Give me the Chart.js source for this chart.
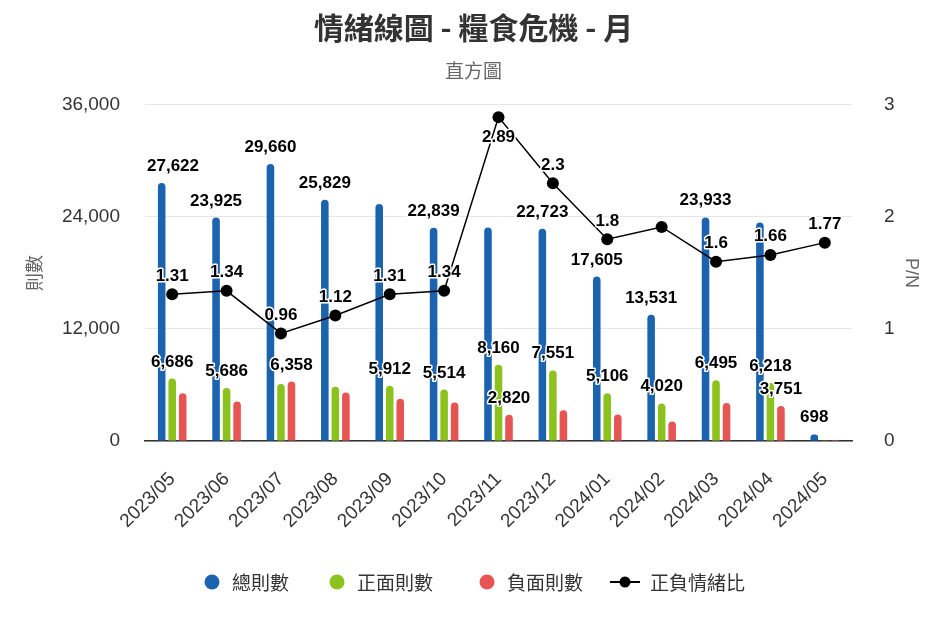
<!DOCTYPE html>
<html>
<head>
<meta charset="utf-8">
<script src="https://cdn.jsdelivr.net/npm/chart.js@4.4.1/dist/chart.umd.min.js"></script>
<style>
  html, body { margin: 0; padding: 0; background: #fff; }
</style>
</head>
<body>
<canvas id="sentimentChart" width="947" height="631"></canvas>
<script>
// data
const months = ['2023/05', '2023/06', '2023/07', '2023/08', '2023/09', '2023/10', '2023/11',
  '2023/12', '2024/01', '2024/02', '2024/03', '2024/04', '2024/05'];
const totalCounts = [27622, 23925, 29660, 25829, 25380, 22839, 22850, 22723, 17605, 13531, 23933, 23400, 698];
const positiveCounts = [6686, 5686, 6104, 5800, 5912, 5514, 8160, 7551, 5106, 4020, 6495, 6218, 23];
const negativeCounts = [5104, 4243, 6358, 5180, 4513, 4115, 2820, 3283, 2837, 2100, 4059, 3751, 13];
const pnRatio = [1.31, 1.34, 0.96, 1.12, 1.31, 1.34, 2.89, 2.3, 1.8, 1.91, 1.6, 1.66, 1.77];
const countTicks = [0, 12000, 24000, 36000];
const ratioTicks = [0, 1, 2, 3];

// which value labels are visible (the others are hidden in the reference)
const totalLabelIdx = [0, 1, 2, 3, 5, 7, 8, 9, 10, 12];
const positiveLabelIdx = [0, 1, 4, 5, 6, 7, 8, 9, 10, 11];
const negativeLabelIdx = [2, 6, 11];
const ratioLabelIdx = [0, 1, 2, 3, 4, 5, 6, 7, 8, 10, 11, 12];

const latin = '"Liberation Sans", Arial, "Noto Sans CJK TC", sans-serif';
const cjk = '"Noto Sans CJK TC", "Liberation Sans", sans-serif';

// black numbers with a white outline above bars / points
const valueLabels = {
  id: 'valueLabels',
  afterDatasetsDraw(chart) {
    const { ctx, chartArea } = chart;
    ctx.save();
    ctx.font = 'bold 17px ' + latin;
    ctx.textAlign = 'center';
    ctx.textBaseline = 'alphabetic';
    ctx.lineJoin = 'round';
    ctx.lineWidth = 3;
    ctx.strokeStyle = '#fff';
    ctx.fillStyle = '#000';
    chart.data.datasets.forEach((ds, di) => {
      const meta = chart.getDatasetMeta(di);
      ds.labelIdx.forEach(i => {
        const el = meta.data[i];
        const txt = ds.type === 'line' ? String(ds.data[i]) : ds.data[i].toLocaleString('en-US');
        const w = ctx.measureText(txt).width;
        const x = Math.min(Math.max(el.x, chartArea.left + w / 2 + 2), chartArea.right - w / 2 - 2);
        let y;
        if (ds.type === 'line') {
          y = el.y - 13.5;
          if (y - 13 < chartArea.top) y = el.y + 25;
        } else {
          y = el.y - 12;
        }
        ctx.strokeText(txt, x, y);
        ctx.fillText(txt, x, y);
      });
    });
    ctx.restore();
  }
};

// legend row at the bottom
const legendRow = {
  id: 'legendRow',
  afterDraw(chart) {
    const ctx = chart.ctx;
    const y = 582;
    const symbolX = [212, 337, 487, 625];
    ctx.save();
    ctx.font = '19px ' + cjk;
    ctx.textBaseline = 'middle';
    chart.data.datasets.forEach((ds, i) => {
      const cx = symbolX[i];
      let textX;
      if (ds.type === 'line') {
        ctx.strokeStyle = ds.borderColor;
        ctx.lineWidth = 2;
        ctx.beginPath();
        ctx.moveTo(cx - 15, y);
        ctx.lineTo(cx + 15, y);
        ctx.stroke();
        ctx.fillStyle = ds.pointBackgroundColor;
        ctx.beginPath();
        ctx.arc(cx, y, 5.5, 0, Math.PI * 2);
        ctx.fill();
        textX = cx + 25;
      } else {
        ctx.fillStyle = ds.backgroundColor;
        ctx.beginPath();
        ctx.arc(cx, y, 7.5, 0, Math.PI * 2);
        ctx.fill();
        textX = cx + 20;
      }
      ctx.fillStyle = '#333';
      ctx.fillText(ds.label, textX, y + 1);
    });
    ctx.restore();
  }
};

const ctx = document.getElementById('sentimentChart').getContext('2d');
const chart = new Chart(ctx, {
  type: 'bar',
  data: {
    labels: months,
    datasets: [
      { label: '總則數', data: totalCounts, backgroundColor: '#1b63af', yAxisID: 'y', order: 1,
        borderRadius: 4, borderSkipped: 'start', labelIdx: totalLabelIdx },
      { label: '正面則數', data: positiveCounts, backgroundColor: '#8cc21e', yAxisID: 'y', order: 1,
        borderRadius: 4, borderSkipped: 'start', labelIdx: positiveLabelIdx },
      { label: '負面則數', data: negativeCounts, backgroundColor: '#e75454', yAxisID: 'y', order: 1,
        borderRadius: 4, borderSkipped: 'start', labelIdx: negativeLabelIdx },
      { type: 'line', label: '正負情緒比', data: pnRatio, yAxisID: 'y1', order: 0,
        borderColor: '#000', borderWidth: 1.5, tension: 0,
        pointRadius: 6, pointHoverRadius: 6, pointBackgroundColor: '#000', pointBorderWidth: 0,
        labelIdx: ratioLabelIdx }
    ]
  },
  options: {
    responsive: false,
    animation: false,
    devicePixelRatio: 1,
    datasets: { bar: { categoryPercentage: 0.58, barPercentage: 0.72 } },
    layout: { padding: { top: 0, bottom: 80, left: 0, right: 0 } },
    plugins: {
      legend: { display: false },
      tooltip: { enabled: false },
      title: {
        display: true,
        text: '情緒線圖 - 糧食危機 - 月',
        color: '#333',
        font: { family: cjk, size: 30, weight: 'bold', lineHeight: 1.2 },
        padding: { top: 10, bottom: 8 }
      },
      subtitle: {
        display: true,
        text: '直方圖',
        color: '#666',
        font: { family: cjk, size: 19, lineHeight: 1.2 },
        padding: { top: 5, bottom: 23 }
      }
    },
    scales: {
      x: {
        grid: { display: false },
        border: { display: true, color: '#333', width: 1.5 },
        ticks: { color: '#333', font: { family: latin, size: 19 }, minRotation: 45, maxRotation: 45, padding: 19 },
        afterFit: s => { s.height = 110; }
      },
      y: {
        position: 'left',
        min: 0,
        max: 36000,
        afterBuildTicks: s => { s.ticks = countTicks.map(v => ({ value: v })); },
        grid: { color: '#e6e6e6', drawTicks: false },
        border: { display: false },
        ticks: { color: '#333', font: { family: latin, size: 19 }, padding: 25,
          callback: v => v.toLocaleString('en-US') },
        title: { display: true, text: '則數', color: '#666', font: { family: cjk, size: 18 }, padding: { top: 23 } },
        afterFit: s => { s.width = 145; }
      },
      y1: {
        position: 'right',
        min: 0,
        max: 3,
        afterBuildTicks: s => { s.ticks = ratioTicks.map(v => ({ value: v })); },
        grid: { display: false },
        border: { display: false },
        ticks: { color: '#333', font: { family: latin, size: 19 }, padding: 24 },
        title: { display: true, text: 'P/N', color: '#666', font: { family: latin, size: 18 }, padding: { top: 25 } },
        afterFit: s => { s.width = 95; }
      }
    }
  },
  plugins: [valueLabels, legendRow]
});
</script>
</body>
</html>
